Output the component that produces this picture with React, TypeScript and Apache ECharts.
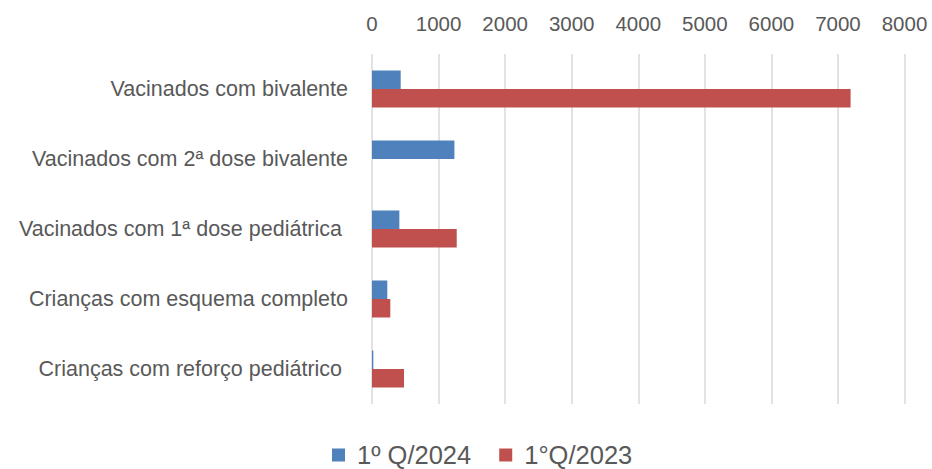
import React, { useEffect, useRef } from "react";
import * as echarts from "echarts";

const categories = [
  "Vacinados com bivalente",
  "Vacinados com 2ª dose bivalente",
  "Vacinados com 1ª dose pediátrica ",
  "Crianças com esquema completo",
  "Crianças com reforço pediátrico ",
];
const seriesNames = ["1º Q/2024", "1°Q/2023"];
const q2024 = [431, 1238, 411, 230, 20];
const q2023 = [7190, 0, 1273, 275, 481];
const xTicks = { min: 0, max: 8000, interval: 1000 };

export default function App() {
  const ref = useRef<HTMLDivElement>(null);
  useEffect(() => {
    if (!ref.current) return;
    const chart = echarts.init(ref.current, null, { renderer: "svg" });
    const font = "'Liberation Sans', Arial, sans-serif";
    chart.setOption({
      animation: false,
      backgroundColor: "#ffffff",
      grid: { left: 372, right: 27.5, top: 54, bottom: 65, containLabel: false },
      legend: {
        data: seriesNames,
        top: 442,
        left: 332,
        padding: 0,
        icon: "rect",
        itemWidth: 13,
        itemHeight: 13,
        itemGap: 28,
        textStyle: { color: "#595959", fontSize: 25.5, fontFamily: font, padding: [0, 0, 0, 7] },
      },
      xAxis: {
        type: "value",
        position: "top",
        min: xTicks.min,
        max: xTicks.max,
        interval: xTicks.interval,
        axisLine: { show: false },
        axisTick: { show: false },
        axisLabel: {
          color: "#595959",
          fontSize: 20.5,
          fontFamily: font,
          margin: 20,
          formatter: (v: number) => String(v),
        },
        splitLine: { lineStyle: { color: "#d9d9d9", width: 1.5 } },
      },
      yAxis: {
        type: "category",
        inverse: true,
        data: categories,
        axisLine: { show: false },
        axisTick: { show: false },
        axisLabel: { color: "#595959", fontSize: 21.5, fontFamily: font, margin: 24 },
      },
      series: [
        {
          name: seriesNames[0],
          type: "bar",
          data: q2024,
          barWidth: 18.5,
          barGap: "0%",
          itemStyle: { color: "#4F81BD" },
        },
        {
          name: seriesNames[1],
          type: "bar",
          data: q2023,
          barWidth: 18.5,
          barGap: "0%",
          itemStyle: { color: "#C0504D" },
        },
      ],
    });
    return () => chart.dispose();
  }, []);
  return (
    <div
      ref={ref}
      style={{ position: "fixed", left: 0, top: 0, width: 932, height: 469, background: "#fff" }}
    />
  );
}
